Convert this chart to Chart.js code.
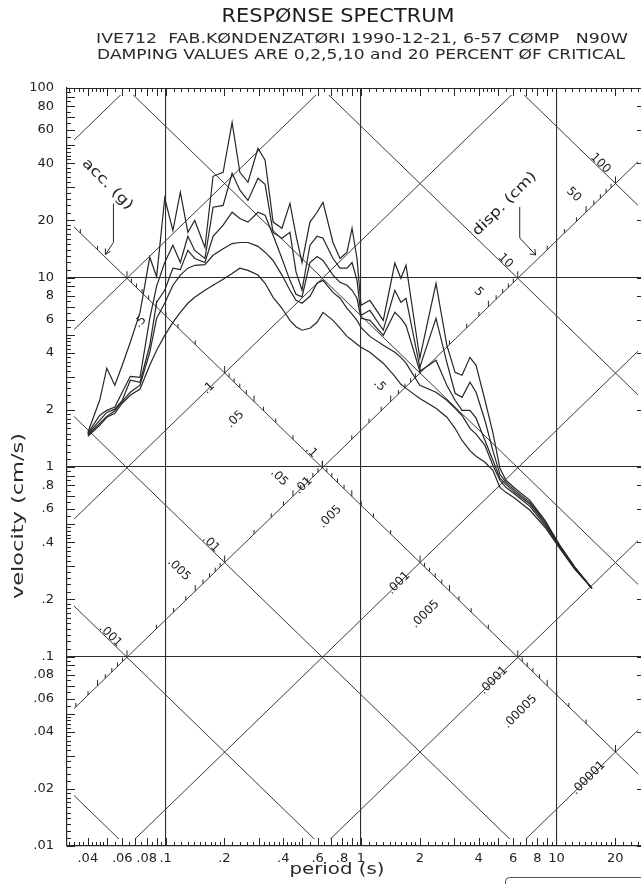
<!DOCTYPE html>
<html>
<head>
<meta charset="utf-8">
<title>Response spectrum</title>
<script src="https://cdn.jsdelivr.net/npm/chart.js@4.4.1/dist/chart.umd.min.js"></script>
<style>
  html, body { margin: 0; padding: 0; background: #fff; overflow: hidden; }
  canvas { display: block; }
</style>
</head>
<body>
<canvas id="spectrum" width="660" height="884"></canvas>
<script>
const G = 981; // cm/s^2
const TWO_PI = 2 * Math.PI;
const FONT = '"DejaVu Sans", "Liberation Sans", sans-serif';
const INK = '#262626';

// period (s), shared by all damping curves
const periods = [0.040, 0.046, 0.050, 0.055, 0.060, 0.066, 0.074, 0.083, 0.090, 0.099,
  0.109, 0.119, 0.130, 0.141, 0.159, 0.175, 0.197, 0.219, 0.240, 0.264,
  0.297, 0.323, 0.355, 0.394, 0.433, 0.465, 0.499, 0.548, 0.596, 0.639,
  0.719, 0.781, 0.848, 0.900, 0.954, 1.00, 1.11, 1.30, 1.49, 1.60,
  1.70, 2.00, 2.42, 2.75, 3.03, 3.29, 3.61, 3.88, 4.31, 4.73,
  5.14, 5.52, 6.13, 7.32, 8.74, 10.4, 12.4, 15.2];

// pseudo velocity (cm/s) for 0, 2, 5, 10, 20 % damping
const damp0 = [1.52, 2.25, 3.32, 2.70, 3.44, 4.55, 6.55, 12.8, 10.1, 26.2,
  17.7, 28.2, 17.3, 20.0, 14.4, 34.2, 35.9, 65.9, 35.9, 31.8,
  48.1, 41.6, 19.6, 18.2, 24.6, 16.7, 12.0, 19.6, 22.1, 24.9,
  15.3, 12.6, 13.6, 18.2, 12.6, 7.13, 7.58, 5.94, 11.9, 9.90,
  11.6, 3.75, 9.32, 4.39, 3.16, 3.05, 3.79, 3.44, 2.25, 1.52,
  0.984, 0.851, 0.772, 0.667, 0.523, 0.386, 0.296, 0.229];
const damp2 = [1.51, 1.87, 1.99, 2.07, 2.48, 3.01, 2.97, 6.09, 9.0, 12.0,
  14.8, 12.0, 16.5, 13.9, 12.6, 23.5, 24.0, 35.5, 28.9, 25.5,
  33.4, 31.0, 17.3, 16.1, 17.3, 10.7, 8.56, 14.8, 16.5, 16.1,
  12.6, 11.2, 11.2, 12.0, 9.66, 6.32, 6.71, 5.27, 8.56, 7.40,
  7.77, 3.36, 6.09, 3.57, 2.45, 2.33, 2.80, 2.48, 1.76, 1.22,
  0.915, 0.830, 0.753, 0.651, 0.517, 0.386, 0.296, 0.229];
const damp5 = [1.49, 1.76, 1.94, 2.02, 2.25, 2.87, 2.80, 4.39, 7.40, 8.56,
  11.2, 11.0, 13.9, 12.6, 12.0, 16.5, 18.9, 22.1, 20.5, 19.6,
  22.1, 21.3, 16.7, 12.6, 9.66, 8.15, 7.9, 12.0, 12.9, 12.3,
  10.3, 9.43, 9.10, 8.56, 7.77, 6.09, 5.94, 4.95, 6.55, 6.09,
  5.59, 3.2, 3.66, 2.70, 2.25, 1.99, 1.99, 1.81, 1.38, 1.085,
  0.872, 0.810, 0.735, 0.636, 0.505, 0.382, 0.296, 0.229];
const damp10 = [1.47, 1.70, 1.85, 1.98, 2.22, 2.48, 2.70, 4.03, 6.09, 7.31,
  9.10, 10.3, 11.2, 11.6, 11.7, 13.1, 14.2, 15.1, 15.3, 15.3,
  14.6, 13.6, 12.3, 10.3, 8.56, 7.58, 7.31, 7.96, 9.32, 9.66,
  8.35, 7.77, 6.88, 6.40, 5.94, 5.46, 4.89, 4.39, 4.03, 3.79,
  3.53, 2.70, 2.48, 2.25, 2.04, 1.87, 1.60, 1.49, 1.30, 1.02,
  0.851, 0.781, 0.718, 0.620, 0.493, 0.377, 0.292, 0.229];
const damp20 = [1.45, 1.66, 1.83, 1.92, 2.17, 2.39, 2.58, 3.44, 4.13, 4.95,
  5.80, 6.55, 7.31, 7.86, 8.56, 9.10, 9.78, 10.5, 11.2, 10.9,
  10.3, 9.32, 7.86, 6.88, 5.94, 5.50, 5.27, 5.40, 5.80, 6.55,
  5.94, 5.40, 4.89, 4.66, 4.44, 4.28, 4.03, 3.53, 3.01, 2.73,
  2.60, 2.30, 2.04, 1.83, 1.60, 1.38, 1.22, 1.14, 1.059, 0.961,
  0.781, 0.735, 0.684, 0.591, 0.481, 0.372, 0.289, 0.229];

const periodTicks = [0.04, 0.06, 0.08, 0.1, 0.2, 0.4, 0.6, 0.8, 1, 2, 4, 6, 8, 10, 20];
const velocityTicks = [0.01, 0.02, 0.04, 0.06, 0.08, 0.1, 0.2, 0.4, 0.6, 0.8, 1, 2, 4, 6, 8, 10, 20, 40, 60, 80, 100];
const gridValues = [0.1, 1, 10];

// tripartite diagonals
const dispLines = [0.0001, 0.001, 0.01, 0.1, 1, 10, 100];          // cm
const accLines = [10, 1, 0.1, 0.01, 0.001, 0.0001, 0.00001];        // g
const accScaleOn = 0.1;    // displacement line (cm) that carries the acc. scale
const accLabels = [0.5, 0.1, 0.05, 0.01, 0.005, 0.001, 0.0005, 0.0001, 0.00005, 0.00001];
const dispScaleOn = 0.01;  // acceleration line (g) that carries the disp. scale
const dispLabels = [0.001, 0.005, 0.01, 0.05, 0.1, 0.5, 5, 10, 50, 100];

const T_MIN = 0.0313, T_MAX = 28.4;
const INSET = 7;

function fmt(v) { return v < 1 ? String(v).replace(/^0/, '') : String(v); }
function vDisp(d, t) { return TWO_PI * d / t; }
function vAcc(a, t) { return a * G * t / TWO_PI; }
function crossing(d, a) {
  const t = TWO_PI * Math.sqrt(d / (a * G));
  return { t: t, v: vDisp(d, t) };
}
function series(lo, hi) {
  const out = [];
  for (let e = -6; e <= 3; e++) {
    for (let m = 1; m <= 9; m++) {
      const v = +(m + 'e' + e);
      if (v >= lo && v <= hi) out.push({ v: v, m: m });
    }
  }
  return out;
}
function fineTicks(lo, hi) {
  const out = [];
  for (let e = -3; e <= 2; e++) {
    const steps = [];
    for (let k = 10; k < 20; k++) steps.push(k);
    for (let k = 20; k < 50; k += 2) steps.push(k);
    for (let k = 50; k < 100; k += 5) steps.push(k);
    steps.forEach(k => {
      const v = +((k / 10) + 'e' + e);
      if (v >= lo * 0.999 && v <= hi * 1.001) out.push({ v: v, major: k % 10 === 0 });
    });
  }
  return out;
}

const diagonals = [];
dispLines.forEach(d => diagonals.push([T_MIN, T_MAX].map(t => ({ x: t, y: vDisp(d, t) }))));
accLines.forEach(a => diagonals.push([T_MIN, T_MAX].map(t => ({ x: t, y: vAcc(a, t) }))));

const curves = [damp0, damp2, damp5, damp10, damp20];

const datasets = [];
curves.forEach(c => datasets.push({
  data: periods.map((t, i) => ({ x: t, y: c[i] })),
  borderColor: INK, borderWidth: 1.2, pointRadius: 0, order: 0
}));
diagonals.forEach(pts => datasets.push({
  data: pts, borderColor: '#3a3a3a', borderWidth: 1, pointRadius: 0,
  clip: -INSET, order: 1
}));

function fitText(ctx, s, cx, cy, w, size, rot) {
  ctx.font = size + 'px ' + FONT;
  const m = ctx.measureText(s).width;
  ctx.save();
  ctx.translate(cx, cy);
  if (rot) ctx.rotate(rot);
  ctx.scale(w / m, 1);
  ctx.textAlign = 'center';
  ctx.textBaseline = 'middle';
  ctx.fillText(s, 0, 0);
  ctx.restore();
}

const tripartite = {
  id: 'tripartite',
  afterDatasetsDraw(chart) {
    const { ctx, chartArea: a, scales: { x, y } } = chart;
    const inside = (px, py) => px >= a.left + INSET && px <= a.right - INSET &&
      py >= a.top + INSET && py <= a.bottom - INSET;
    ctx.save();
    ctx.strokeStyle = INK;
    ctx.fillStyle = '#222';
    ctx.lineWidth = 1;

    // frame top and right
    ctx.beginPath();
    ctx.moveTo(a.left, a.top + 0.5); ctx.lineTo(a.right, a.top + 0.5);
    ctx.moveTo(a.right - 0.5, a.top); ctx.lineTo(a.right - 0.5, a.bottom);
    ctx.stroke();

    // fine ticks on the frame
    ctx.beginPath();
    fineTicks(0.01, 100).forEach(t => {
      const py = Math.round(y.getPixelForValue(t.v)) + 0.5;
      const len = t.major ? 8 : 4;
      ctx.moveTo(a.left, py); ctx.lineTo(a.left + len, py);
    });
    velocityTicks.forEach(v => {
      const py = Math.round(y.getPixelForValue(v)) + 0.5;
      ctx.moveTo(a.right, py); ctx.lineTo(a.right - 8, py);
    });
    fineTicks(T_MIN, T_MAX).forEach(t => {
      const px = Math.round(x.getPixelForValue(t.v)) + 0.5;
      const len = t.major ? 8 : 4;
      ctx.moveTo(px, a.bottom); ctx.lineTo(px, a.bottom - len);
      ctx.moveTo(px, a.top); ctx.lineTo(px, a.top + len);
    });
    ctx.stroke();

    // acceleration scale along one displacement line
    ctx.beginPath();
    series(1e-5, 9).forEach(s => {
      const c = crossing(accScaleOn, s.v);
      const px = x.getPixelForValue(c.t), py = y.getPixelForValue(c.v);
      if (!inside(px, py)) return;
      const len = s.m === 1 ? 7 : (s.m === 5 ? 6 : 4);
      ctx.moveTo(px, py); ctx.lineTo(px, py - len);
    });
    // displacement scale along one acceleration line
    series(1e-4, 900).forEach(s => {
      const c = crossing(s.v, dispScaleOn);
      const px = x.getPixelForValue(c.t), py = y.getPixelForValue(c.v);
      if (!inside(px, py)) return;
      const len = s.m === 1 ? 7 : (s.m === 5 ? 6 : 4);
      ctx.moveTo(px, py); ctx.lineTo(px, py - len);
    });
    ctx.stroke();

    ctx.font = '12px ' + FONT;
    ctx.textAlign = 'right';
    ctx.textBaseline = 'middle';
    accLabels.forEach(v => {
      const c = crossing(accScaleOn, v);
      const px = x.getPixelForValue(c.t), py = y.getPixelForValue(c.v);
      ctx.save(); ctx.translate(px - 12, py + 11); ctx.rotate(-Math.PI / 4);
      ctx.fillText(fmt(v), 0, 0); ctx.restore();
    });
    dispLabels.forEach(v => {
      const c = crossing(v, dispScaleOn);
      const px = x.getPixelForValue(c.t), py = y.getPixelForValue(c.v);
      ctx.save(); ctx.translate(px - 7, py - 12); ctx.rotate(Math.PI / 4);
      ctx.fillText(fmt(v), 0, 0); ctx.restore();
    });

    // "acc. (g)" pointer
    let c = crossing(accScaleOn, 1.7);
    let px = x.getPixelForValue(c.t), py = y.getPixelForValue(c.v);
    ctx.beginPath();
    ctx.moveTo(px + 9, py - 53); ctx.lineTo(px + 9, py - 14); ctx.lineTo(px + 1, py - 2);
    ctx.moveTo(px + 1, py - 2); ctx.lineTo(px + 1, py - 8);
    ctx.moveTo(px + 1, py - 2); ctx.lineTo(px + 6, py - 5);
    ctx.stroke();
    fitText(ctx, 'acc. (g)', px + 3, py - 72, 66, 14, Math.PI / 4);

    // "disp. (cm)" pointer
    c = crossing(16, dispScaleOn);
    px = x.getPixelForValue(c.t); py = y.getPixelForValue(c.v);
    ctx.beginPath();
    ctx.moveTo(px - 18, py - 52); ctx.lineTo(px - 18, py - 21); ctx.lineTo(px - 2, py - 4);
    ctx.moveTo(px - 2, py - 4); ctx.lineTo(px - 8, py - 5);
    ctx.moveTo(px - 2, py - 4); ctx.lineTo(px - 3, py - 10);
    ctx.stroke();
    fitText(ctx, 'disp. (cm)', px - 33, py - 55, 84, 14, -Math.PI / 4);

    ctx.restore();
  },
  afterDraw(chart) {
    const { ctx, chartArea: a } = chart;
    ctx.save();
    ctx.fillStyle = '#1e1e1e';
    fitText(ctx, 'RESP\u00d8NSE SPECTRUM', 338, 17, 233, 19);
    ctx.fillStyle = '#2a2a2a';
    fitText(ctx, 'IVE712  FAB.K\u00d8NDENZAT\u00d8RI 1990-12-21, 6-57 C\u00d8MP   N90W', 362, 39, 532, 14);
    fitText(ctx, 'DAMPING VALUES ARE 0,2,5,10 and 20 PERCENT \u00d8F CRITICAL', 361, 55, 528, 14);
    fitText(ctx, 'velocity (cm/s)', 19, 516, 166, 15, -Math.PI / 2);
    fitText(ctx, 'period (s)', 337, 870, 95, 16);
    // edge of the stamp box under the plot
    ctx.strokeStyle = '#555';
    ctx.lineWidth = 1;
    ctx.beginPath();
    ctx.moveTo(505.5, a.bottom + 40);
    ctx.lineTo(505.5, a.bottom + 35);
    ctx.arcTo(505.5, a.bottom + 31.5, 510, a.bottom + 31.5, 4);
    ctx.lineTo(660, a.bottom + 31.5);
    ctx.stroke();
    ctx.restore();
  }
};

new Chart(document.getElementById('spectrum'), {
  type: 'line',
  data: { datasets: datasets },
  options: {
    responsive: false,
    animation: false,
    devicePixelRatio: 1,
    layout: { padding: { top: 88, right: 15, left: 0, bottom: 0 } },
    plugins: { legend: { display: false }, tooltip: { enabled: false }, title: { display: false } },
    elements: { point: { radius: 0 }, line: { tension: 0 } },
    scales: {
      x: {
        type: 'logarithmic', min: T_MIN, max: T_MAX,
        afterFit: s => { s.height = 38; },
        afterBuildTicks: s => { s.ticks = periodTicks.map(v => ({ value: v })); },
        ticks: {
          callback: v => fmt(v), autoSkip: false, maxRotation: 0, minRotation: 0,
          padding: 5, color: '#222', font: { family: FONT, size: 13 }
        },
        grid: {
          drawTicks: false, lineWidth: 1.1,
          color: c => (c.tick && gridValues.includes(c.tick.value)) ? '#2e2e2e' : 'rgba(0,0,0,0)'
        },
        border: { color: INK, width: 1.2 }
      },
      y: {
        type: 'logarithmic', min: 0.01, max: 100,
        afterFit: s => { s.width = 67; },
        afterBuildTicks: s => { s.ticks = velocityTicks.map(v => ({ value: v })); },
        ticks: {
          callback: v => fmt(v), autoSkip: false, padding: 13,
          color: '#222', font: { family: FONT, size: 13 }
        },
        grid: {
          drawTicks: false, lineWidth: 1.1,
          color: c => (c.tick && gridValues.includes(c.tick.value)) ? '#2e2e2e' : 'rgba(0,0,0,0)'
        },
        border: { color: INK, width: 1.2 }
      }
    }
  },
  plugins: [tripartite]
});
</script>
</body>
</html>
